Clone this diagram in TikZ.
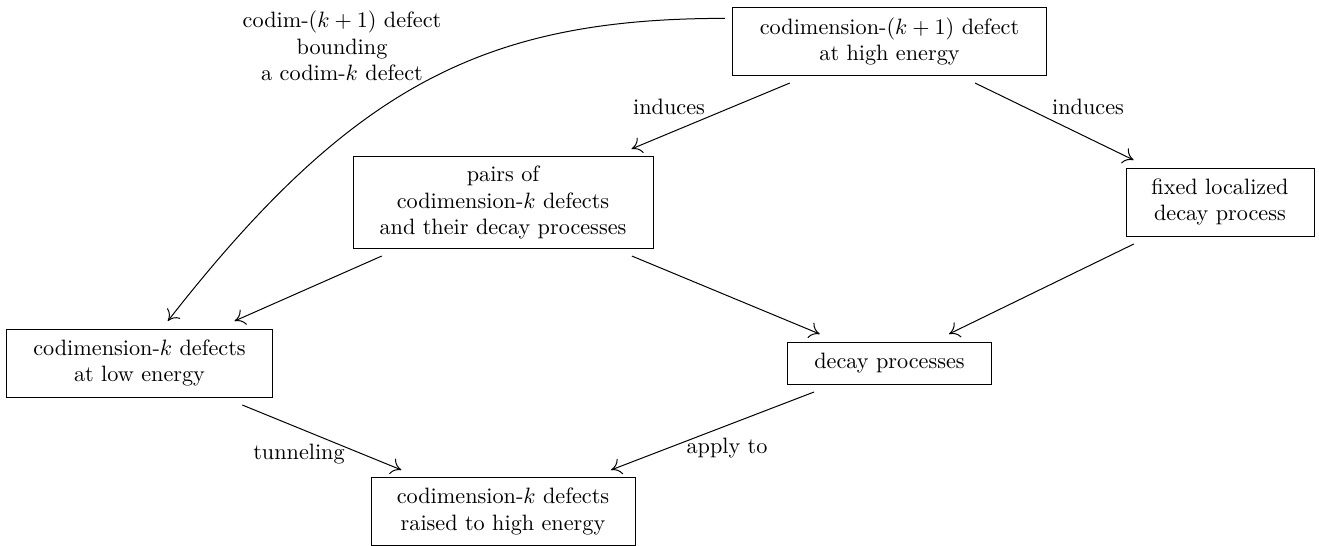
\documentclass[tikz,border=0pt]{standalone}
\usetikzlibrary{arrows.meta}
\begin{document}
\begin{tikzpicture}[x=0.45pt,y=-0.45pt,
  box/.style={draw, line width=0.45pt, align=center, outer sep=3.6pt, inner sep=0pt},
  arr/.style={line width=0.45pt, -{To[length=4.5pt,width=7.5pt]}},
  lbl/.style={inner sep=0pt, align=center}]
\useasboundingbox (0,0) rectangle (1319,546);
\node[box, minimum width=140.9pt, minimum height=30.2pt] (top) at (889.5,41.5) {codimension-$(k+1)$ defect\\at high energy};
\node[box, minimum width=135pt, minimum height=41pt] (pairs) at (503,202.5) {pairs of\\codimension-$k$ defects\\and their decay processes};
\node[box, minimum width=84.6pt, minimum height=30.6pt] (fixed) at (1220,202) {fixed localized\\decay process};
\node[box, minimum width=119.3pt, minimum height=30.6pt] (low) at (139.5,363) {codimension-$k$ defects\\at low energy};
\node[box, minimum width=91.4pt, minimum height=18.9pt] (decay) at (889.5,363) {decay processes};
\node[box, minimum width=118.8pt, minimum height=30.2pt] (raised) at (503,511.5) {codimension-$k$ defects\\raised to high energy};

\draw[arr] (top) -- (pairs);
\draw[arr] (top) -- (fixed);
\draw[arr] (pairs) -- (low);
\draw[arr] (pairs) -- (decay);
\draw[arr] (fixed) -- (decay);
\draw[arr] (low) -- (raised);
\draw[arr] (decay) -- (raised);
\draw[arr] (top.172) to[out=180, in=52, out looseness=0.965, in looseness=1.206] (low.56);

\node[lbl] (l1) at (669,107) {induces};
\node[lbl] (l2) at (1088,107) {induces};
\node[lbl] (l3) at (299,454) {tunneling};
\node[lbl] (l4) at (727,448) {apply to};
\node[lbl] (l5) at (342,46) {codim-$(k+1)$ defect\\bounding\\a codim-$k$ defect};
\end{tikzpicture}
\end{document}
